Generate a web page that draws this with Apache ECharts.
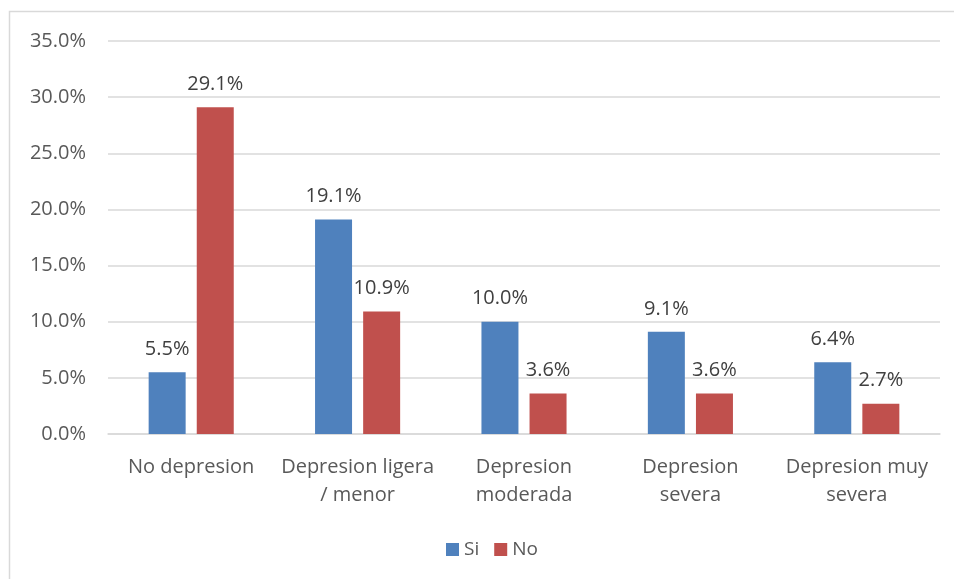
<!DOCTYPE html>
<html>
<head>
<meta charset="utf-8">
<script src="https://cdn.jsdelivr.net/npm/echarts@6/dist/echarts.min.js"></script>
<style>html,body{margin:0;padding:0;background:#fff}#c{width:954px;height:579px}</style>
</head>
<body>
<div id="c"></div>
<script>
var categories = ['No depresion', 'Depresion ligera\n/ menor', 'Depresion\nmoderada', 'Depresion\nsevera', 'Depresion muy\nsevera'];
var siValues = [5.5, 19.1, 10.0, 9.1, 6.4];
var noValues = [29.1, 10.9, 3.6, 3.6, 2.7];
var seriesNames = ['Si', 'No'];

var chart = echarts.init(document.getElementById('c'), null, {renderer: 'canvas'});
var font = 'Open Sans, sans-serif';
var labelStyle = {
  show: true, position: 'top', distance: 13,
  color: '#404040', fontSize: 20, fontFamily: font,
  formatter: function (p) { return p.value.toFixed(1) + '%'; }
};
chart.setOption({
  animation: false,
  graphic: [{
    type: 'rect', silent: true,
    shape: {x: 9.5, y: 11.5, width: 1000, height: 1000},
    style: {fill: 'none', stroke: '#d9d9d9', lineWidth: 1.5}
  }],
  grid: {left: 108, right: 14, top: 41, bottom: 145, containLabel: false},
  legend: {
    top: 535, left: 441, itemWidth: 13, itemHeight: 13, itemGap: 15,
    icon: 'rect',
    textStyle: {color: '#595959', fontSize: 19, fontFamily: font},
    data: seriesNames
  },
  xAxis: {
    type: 'category', data: categories,
    axisLine: {lineStyle: {color: '#d9d9d9', width: 1.5}},
    axisTick: {show: false},
    axisLabel: {color: '#595959', fontSize: 20, fontFamily: font, margin: 19, lineHeight: 28, interval: 0}
  },
  yAxis: {
    type: 'value', min: 0, max: 35, interval: 5,
    axisLine: {show: false}, axisTick: {show: false},
    splitLine: {lineStyle: {color: '#d9d9d9', width: 1.5}},
    axisLabel: {color: '#595959', fontSize: 20, fontFamily: font, margin: 22,
      formatter: function (v) { return v.toFixed(1) + '%'; }}
  },
  series: [
    {name: seriesNames[0], type: 'bar', data: siValues, barWidth: 37, barGap: '30%',
     itemStyle: {color: '#4F81BD'}, label: labelStyle},
    {name: seriesNames[1], type: 'bar', data: noValues, barWidth: 37, barGap: '30%',
     itemStyle: {color: '#C0504D'}, label: labelStyle}
  ]
});
</script>
</body>
</html>
